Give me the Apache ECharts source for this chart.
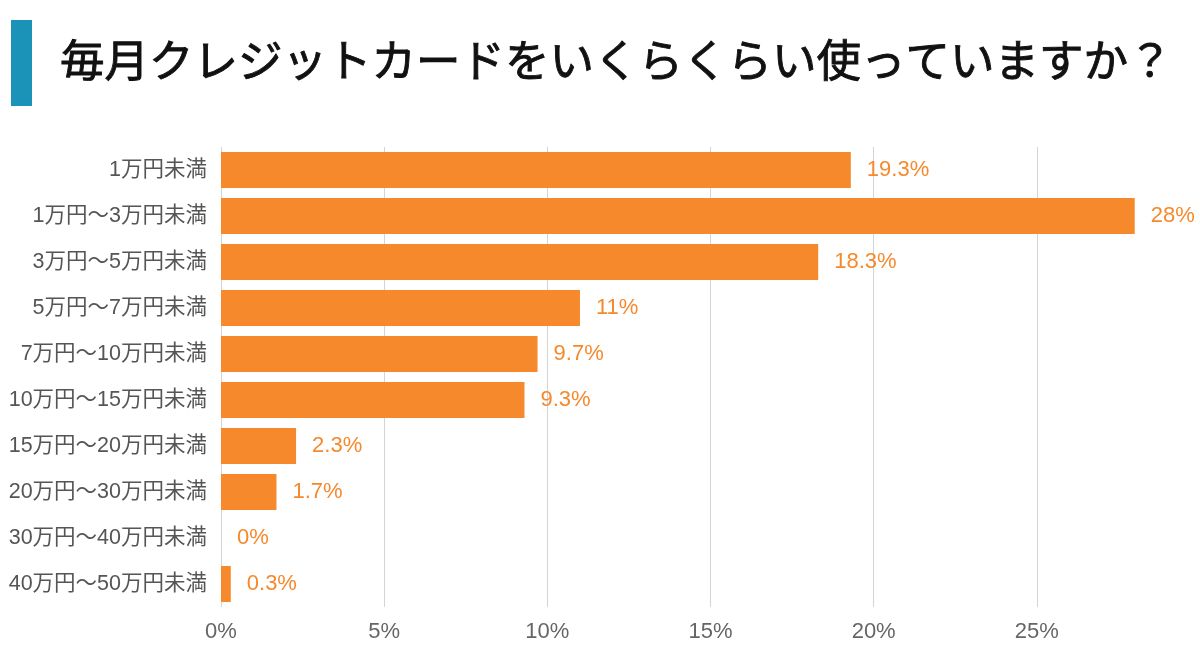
<!DOCTYPE html>
<html><head><meta charset="utf-8">
<script src="https://cdn.jsdelivr.net/npm/echarts@6/dist/echarts.min.js"></script>
<style>html,body{margin:0;padding:0;background:#fff}#c{width:1200px;height:666px}</style>
</head><body><div id="c"></div>
<script>
const titleText = '毎月クレジットカードをいくらくらい使っていますか？';
const categories = ['1万円未満','1万円～3万円未満','3万円～5万円未満','5万円～7万円未満','7万円～10万円未満','10万円～15万円未満','15万円～20万円未満','20万円～30万円未満','30万円～40万円未満','40万円～50万円未満'];
const values = [19.3, 28, 18.3, 11, 9.7, 9.3, 2.3, 1.7, 0, 0.3];
const xTicks = [0, 5, 10, 15, 20, 25];

const chart = echarts.init(document.getElementById('c'));
const font = '"Liberation Sans", "Noto Sans CJK JP", sans-serif';
chart.setOption({
  animation: false,
  backgroundColor: '#fff',
  graphic: [
    { type: 'rect', left: 11, top: 20, shape: { width: 21, height: 86 }, style: { fill: '#1b93b9' } },
    { type: 'text', x: 60, y: 60, style: { text: titleText, fontFamily: '"Noto Sans CJK JP", sans-serif', fontSize: 44.5, fontWeight: 'normal', fill: '#111', stroke: '#111', lineWidth: 0.9, verticalAlign: 'middle', align: 'left' } }
  ],
  grid: { left: 221, top: 147, width: 980, height: 460, containLabel: false },
  xAxis: {
    type: 'value', min: 0, max: 30, interval: 5,
    axisLine: { show: false }, axisTick: { show: false },
    splitLine: { lineStyle: { color: '#d4d4d4', width: 1 } },
    axisLabel: { showMaxLabel: false, margin: 14, fontSize: 22, color: '#666', fontFamily: font,
      formatter: v => xTicks.includes(v) ? v + '%' : '' }
  },
  yAxis: {
    type: 'category', data: categories, inverse: true,
    axisLine: { show: false }, axisTick: { show: false },
    axisLabel: { margin: 14, fontSize: 21.5, color: '#555', fontFamily: font, padding: [3, 0, 0, 0] }
  },
  series: [{
    type: 'bar', data: values, barWidth: 36,
    itemStyle: { color: '#f5892c' },
    label: { show: true, position: 'right', distance: 16, fontSize: 22, color: '#f5892c', fontFamily: font,
      padding: [3, 0, 0, 0], formatter: p => p.value + '%' }
  }]
});
</script></body></html>
